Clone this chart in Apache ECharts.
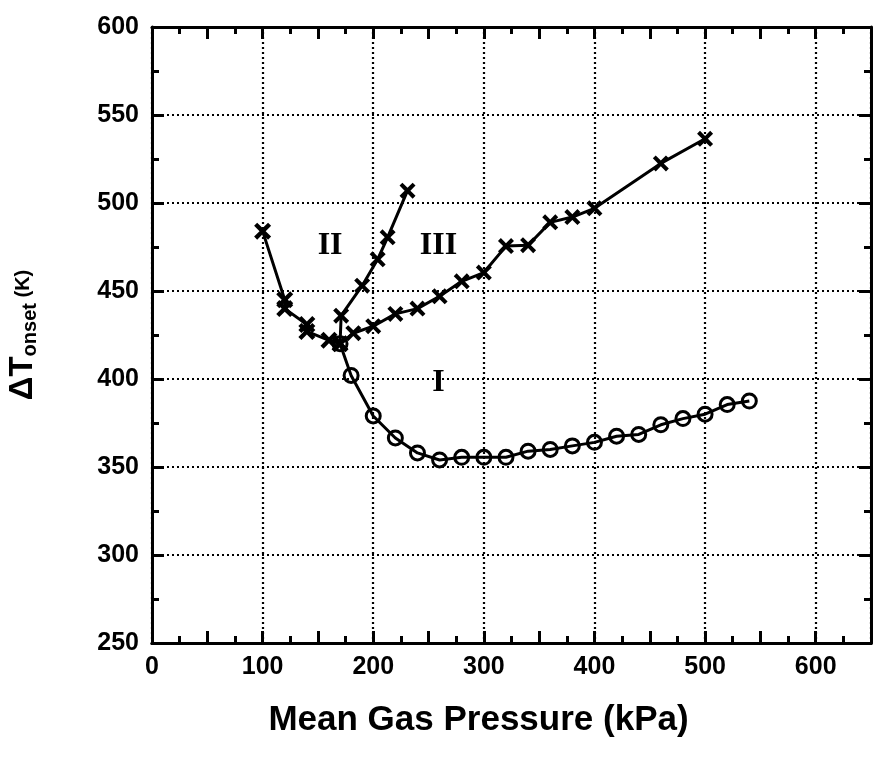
<!DOCTYPE html>
<html><head><meta charset="utf-8">
<script src="https://cdn.jsdelivr.net/npm/echarts@6/dist/echarts.min.js"></script>
<style>html,body{margin:0;padding:0;background:#fff}#c{width:881px;height:765px}</style>
</head><body><div id="c"></div>
<script>
// Data (Mean Gas Pressure kPa, ΔT_onset K)
const commonBranch = [[100,484],[120,445],[120,440],[140,431],[140,427],[160,422],[170,420]];
const seriesI = [[170,420],[180,402],[200,379],[220,366.5],[240,358],[260,354],[280,355.5],[300,355.5],[320,355.5],[340,359],[360,360],[380,362],[400,364],[420,367.5],[440,368.5],[460,374],[480,377.5],[500,380],[520,385.5],[540,387.5]];
const seriesII = [[170,420],[171,436],[190,453],[204,468],[213,480.5],[231,507]];
const seriesIII = [[170,420],[182,426],[200,430],[220,437],[240,440],[260,447],[280,455.5],[300,460.5],[320,475.5],[340,476],[360,489],[380,492],[400,497],[460,522.5],[500,536.5]];
const regionLabels = [["I",259,398],["II",161,476],["III",259,476]];
const xTicks = {min:0, max:650, step:100, lastLabel:600};
const yTicks = {min:250, max:600, step:50};

const X_SYM = 'path://M0,1.8L1.8,0L5,3.2L8.2,0L10,1.8L6.8,5L10,8.2L8.2,10L5,6.8L1.8,10L0,8.2L3.2,5Z';
const font = 'Liberation Sans';
const base = {
  axisLine:{show:true,onZero:false,lineStyle:{color:'#000',width:3}},
};
function xa(extra){return Object.assign({type:'value',min:xTicks.min,max:xTicks.max,gridIndex:0},base,extra);}
function ya(extra){return Object.assign({type:'value',min:yTicks.min,max:yTicks.max,gridIndex:0},base,extra);}

const chart = echarts.init(document.getElementById('c'),null,{renderer:'canvas'});
const lineSeries = (data, sym, size, extra) => Object.assign({
  type:'line', data, xAxisIndex:0, yAxisIndex:0, symbol:sym, symbolSize:size,
  lineStyle:{color:'#000',width:3}, itemStyle:{color:'#000'}, animation:false, z:5
}, extra||{});
const tickStyle = {color:'#000',width:3};
const dotted = {color:'#000',type:[2,3],width:2.2};

chart.setOption({
  backgroundColor:'#fff',
  animation:false,
  grid:{left:152, top:27, width:719, height:616, containLabel:false, outerBoundsMode:'none'},
  xAxis:[
    xa({position:'bottom', interval:xTicks.step,
      axisTick:{show:false},
      axisLabel:{color:'#000',fontFamily:font,fontWeight:'bold',fontSize:25,margin:12,
        formatter:v=> v>xTicks.lastLabel ? '' : String(v)},
      splitLine:{show:true,lineStyle:dotted},
      name:'Mean Gas Pressure (kPa)', nameLocation:'middle', nameGap:60,
      nameTextStyle:{color:'#000',fontFamily:font,fontWeight:'bold',fontSize:35,padding:[0,66,0,0]}}),
    xa({position:'bottom', interval:50, axisLabel:{show:false}, splitLine:{show:false},
      axisTick:{show:true,inside:true,length:12,lineStyle:tickStyle},
      minorTick:{show:true,splitNumber:2,length:7,lineStyle:tickStyle}}),
    xa({position:'top', interval:50, axisLabel:{show:false}, splitLine:{show:false},
      axisTick:{show:true,inside:true,length:12,lineStyle:tickStyle},
      minorTick:{show:true,splitNumber:2,length:7,lineStyle:tickStyle}})
  ],
  yAxis:[
    ya({position:'left', interval:yTicks.step,
      axisTick:{show:true,inside:true,length:12,lineStyle:tickStyle},
      minorTick:{show:true,splitNumber:2,length:7,lineStyle:tickStyle},
      axisLabel:{color:'#000',fontFamily:font,fontWeight:'bold',fontSize:25,margin:13},
      splitLine:{show:true,lineStyle:dotted},
      name:'{d|ΔT}{s|onset}{k| (K)}', nameLocation:'middle', nameGap:112, nameRotate:90,
      nameTextStyle:{color:'#000',rich:{
        d:{fontFamily:font,fontWeight:'bold',fontSize:33,color:'#000'},
        s:{fontFamily:font,fontWeight:'bold',fontSize:20,color:'#000',verticalAlign:'bottom',padding:[14,0,0,0]},
        k:{fontFamily:font,fontWeight:'bold',fontSize:20,color:'#000'}}}}),
    ya({position:'right', interval:yTicks.step, axisLabel:{show:false}, splitLine:{show:false},
      axisTick:{show:true,inside:true,length:12,lineStyle:tickStyle},
      minorTick:{show:true,splitNumber:2,length:7,lineStyle:tickStyle}})
  ],
  series:[
    lineSeries(seriesI,'circle',14,{itemStyle:{color:'rgba(0,0,0,0)',borderColor:'#000',borderWidth:3}}),
    lineSeries(seriesII,X_SYM,16),
    lineSeries(seriesIII,X_SYM,16),
    lineSeries(commonBranch,X_SYM,17),
    {type:'scatter', data:regionLabels.map(r=>({value:[r[1],r[2]],name:r[0]})),
      symbol:'circle', symbolSize:0, itemStyle:{color:'#000'}, silent:true,
      label:{show:true,position:'inside',formatter:p=>p.name,color:'#000',opacity:1,
        fontFamily:'Liberation Serif',fontWeight:'bold',fontSize:32},
      z:6}
  ]
});
</script></body></html>
